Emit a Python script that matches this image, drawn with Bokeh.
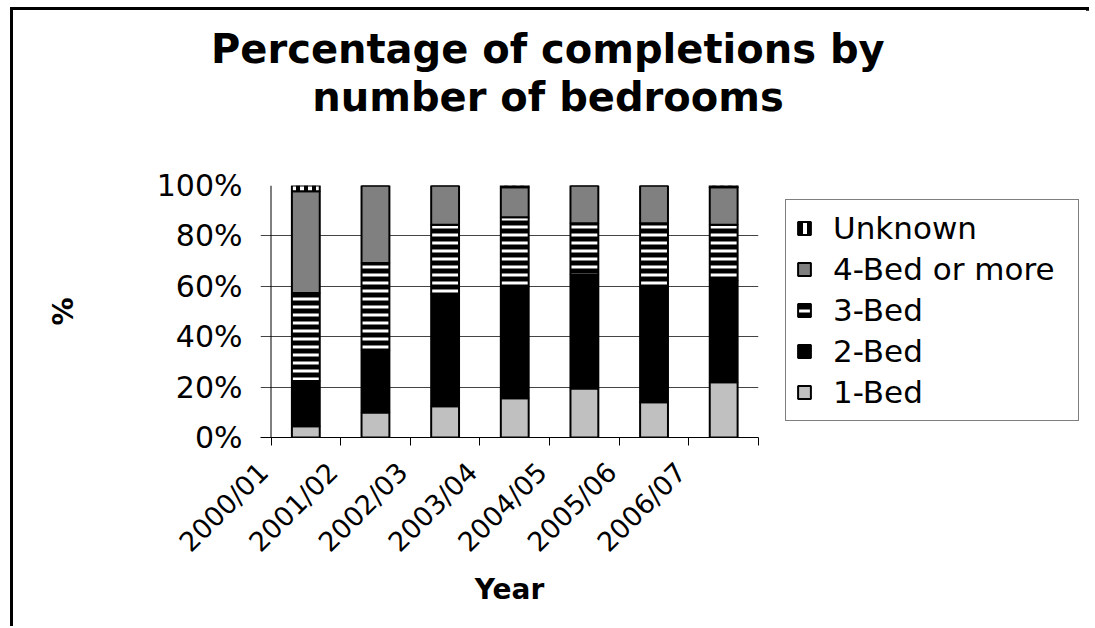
import math
from bokeh.plotting import figure
from bokeh.models import (ColumnDataSource, FixedTicker, PrintfTickFormatter,
                          Legend, LegendItem, Range1d, Span, Title)
from bokeh.embed import file_html
from bokeh.resources import INLINE

# ---- data (percent of completions) ----
years = ["2000/01", "2001/02", "2002/03", "2003/04", "2004/05", "2005/06", "2006/07"]
one_bed = [4.5, 9.9, 12.4, 15.6, 19.4, 14.0, 21.9]
two_bed = [17.9, 24.7, 44.4, 44.1, 45.3, 45.4, 40.4]
three_bed = [34.9, 34.6, 27.6, 27.7, 20.3, 25.6, 22.1]
four_bed = [40.4, 30.8, 15.6, 11.9, 15.0, 15.0, 14.9]
unknown = [2.3, 0.0, 0.0, 0.7, 0.0, 0.0, 0.7]
series_names = ["1-Bed", "2-Bed", "3-Bed", "4-Bed or more", "Unknown"]
y_ticks = [0, 20, 40, 60, 80, 100]
title_lines = ["Percentage of completions by", "number of bedrooms"]

keys = ["one", "two", "three", "four", "unk"]
n = len(years)
xpos = [i + 0.5 for i in range(n)]
src = ColumnDataSource(dict(x=xpos, one=one_bed, two=two_bed, three=three_bed,
                            four=four_bed, unk=unknown))

FONT = "DejaVu Sans"

p = figure(frame_width=498, frame_height=252,
           x_range=Range1d(-0.1508, n), y_range=Range1d(0, 100),
           output_backend="svg", toolbar_location=None, title=None,
           min_border_left=247, min_border_right=328,
           min_border_top=175, min_border_bottom=189)
p.outline_line_color = None
p.background_fill_color = "white"
p.border_fill_color = "white"
p.styles = {"margin-left": "10px", "margin-top": "7px", "width": "1079px",
            "border-left": "3px solid black", "border-top": "3px solid black",
            "border-right": "3px solid black"}

renderers = p.vbar_stack(
    keys, x="x", width=0.4, source=src,
    fill_color=["#c0c0c0", "black", "white", "#808080", "white"],
    line_color="black", line_width=2,
    hatch_pattern=[" ", " ", "horizontal_line", " ", "vertical_line"],
    hatch_color=["black"] * 5,
    hatch_weight=[1, 1, 5, 1, 4],
    hatch_scale=[8, 8, 8, 8, 8],
)

# vertical value-axis line at the category axis origin
p.add_layout(Span(location=0, dimension="height", line_color="black", line_width=1))

# x axis: minor ticks at category boundaries, labels offset like Excel
label_pos = [round(i + 0.5 - 0.609, 3) for i in range(n)]
xa = p.xaxis[0]
xa.ticker = FixedTicker(ticks=label_pos, minor_ticks=list(range(n + 1)))
xa.major_label_overrides = {t: y for t, y in zip(label_pos, years)}
xa.major_label_orientation = math.pi / 4
xa.major_tick_out = 0
xa.major_tick_in = 0
xa.minor_tick_out = 8
xa.minor_tick_in = 0
xa.minor_tick_line_color = "black"
xa.axis_line_color = "black"
xa.major_label_standoff = 22
xa.major_label_text_font = FONT
xa.major_label_text_font_size = "27px"
xa.major_label_text_color = "black"
xa.axis_label = "Year"
xa.axis_label_text_font = FONT
xa.axis_label_text_font_style = "bold"
xa.axis_label_text_font_size = "28px"
xa.axis_label_text_color = "black"
xa.axis_label_standoff = 1

ya = p.yaxis[0]
ya.ticker = FixedTicker(ticks=y_ticks)
ya.formatter = PrintfTickFormatter(format="%d%%")
ya.major_tick_out = 0
ya.major_tick_in = 0
ya.minor_tick_out = 0
ya.minor_tick_in = 0
ya.axis_line_color = None
ya.major_label_standoff = 18
ya.major_label_text_font = FONT
ya.major_label_text_font_size = "30px"
ya.major_label_text_color = "black"
ya.axis_label = "%"
ya.axis_label_text_font = FONT
ya.axis_label_text_font_style = "bold"
ya.axis_label_text_font_size = "28px"
ya.axis_label_text_color = "black"
ya.axis_label_standoff = 74

p.xgrid.visible = False
p.ygrid.ticker = FixedTicker(ticks=y_ticks)
p.ygrid.grid_line_color = "#444444"
p.ygrid.grid_line_width = 1

items = [LegendItem(label=s, renderers=[r])
         for s, r in reversed(list(zip(series_names, renderers)))]
legend = Legend(items=items, location=(27, 16),
                padding=10, spacing=5, margin=0,
                glyph_width=16, glyph_height=16, label_height=35,
                label_width=235, label_standoff=21,
                label_text_font=FONT, label_text_font_size="31px",
                label_text_color="black",
                border_line_color="black", border_line_width=1,
                background_fill_color="white", background_fill_alpha=1)
p.add_layout(legend, "right")

# titles: spacer nearest the frame, then line 2, then line 1
p.add_layout(Title(text=" ", text_font=FONT, text_font_size="55px", standoff=0), "above")
for txt, off in [(title_lines[1], 51.8), (title_lines[0], -49.5)]:
    p.add_layout(Title(text=txt, align="left", offset=off, standoff=0,
                       text_font=FONT, text_font_style="bold", text_font_size="40px",
                       text_color="black"), "above")

open("out.html", "w").write(file_html(p, INLINE))
